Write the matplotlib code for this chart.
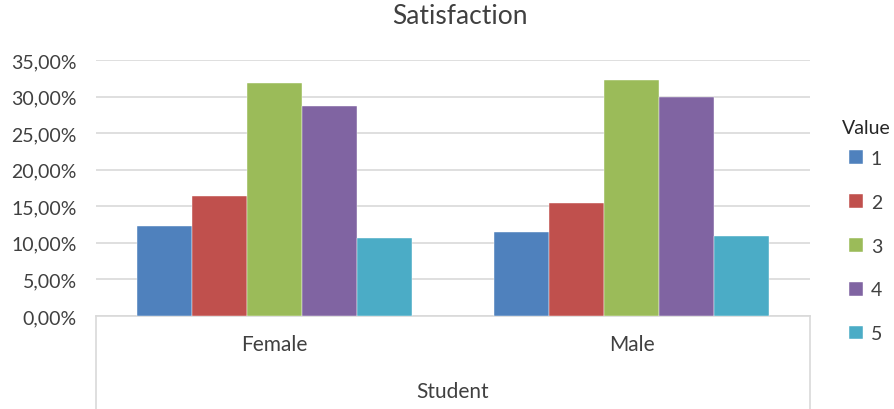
import matplotlib
matplotlib.use("Agg")
import matplotlib.pyplot as plt
from matplotlib.lines import Line2D
import numpy as np

categories = ["Female", "Male"]
series_names = ["1", "2", "3", "4", "5"]
values = {
    "1": [0.1229, 0.1150],
    "2": [0.1640, 0.1540],
    "3": [0.3190, 0.3230],
    "4": [0.2870, 0.2990],
    "5": [0.1060, 0.1090],
}
colors = ["#4f81bd", "#c0504d", "#9bbb59", "#8064a2", "#4bacc6"]
yticks = [0, 0.05, 0.10, 0.15, 0.20, 0.25, 0.30, 0.35]

plt.rcParams['font.family'] = ['Lato', 'DejaVu Sans']
TXT = "#404040"
GRID = "#d9d9d9"

W, H = 895, 410
fig = plt.figure(figsize=(W / 100, H / 100), dpi=100)
ax = fig.add_axes([96 / W, 1 - 317 / H, (810 - 96) / W, (317 - 61) / H])

x = np.arange(len(categories))
bw = 0.768 / len(series_names)
handles = []
for i, (name, c) in enumerate(zip(series_names, colors)):
    b = ax.bar(x + (i - 2) * bw, values[name], width=bw, color=c,
               edgecolor="white", linewidth=0.3, zorder=3, label=name)
    handles.append(b)

ax.set_xlim(-0.5, 1.5)
ax.set_ylim(0, 0.35)
ax.set_yticks(yticks)
ax.set_yticklabels([f"{v*100:.2f}%".replace(".", ",") for v in yticks],
                   fontsize=14, color=TXT)
ax.set_xticks(x)
ax.set_xticklabels(categories, fontsize=15, color=TXT)
ax.tick_params(axis="y", length=0, pad=14)
ax.tick_params(axis="x", length=0, pad=13)
ax.grid(axis="y", color=GRID, linewidth=1.2, zorder=0)
for s in ["top", "right", "left"]:
    ax.spines[s].set_visible(False)
ax.spines["bottom"].set_color(GRID)
ax.spines["bottom"].set_linewidth(1.2)

# category axis box lines
depth = -(H - 317) / (317 - 61)
for xx in (0, 1):
    ax.add_line(Line2D([xx, xx], [0, depth], transform=ax.transAxes,
                       color=GRID, linewidth=1.2, clip_on=False))

fig.text(453 / W, 1 - 392 / H, "Student", ha="center", va="center",
         fontsize=15, color=TXT)
fig.text(460 / W, 1 - 17 / H, "Satisfaction", ha="center", va="center",
         fontsize=19, color=TXT)

leg = fig.legend(handles=handles, labels=series_names,
                 loc="upper left", bbox_to_anchor=(849 / W, 1 - 151 / H),
                 frameon=False, fontsize=14,
                 handlelength=0.72, handleheight=0.72, handletextpad=0.4,
                 labelspacing=1.38, borderpad=0, borderaxespad=0)
for t in leg.get_texts():
    t.set_color(TXT)
fig.text(866 / W, 1 - 129 / H, "Value", ha="center", va="center",
         fontsize=14, color="#262626")

fig.savefig("out.png", dpi=100)
